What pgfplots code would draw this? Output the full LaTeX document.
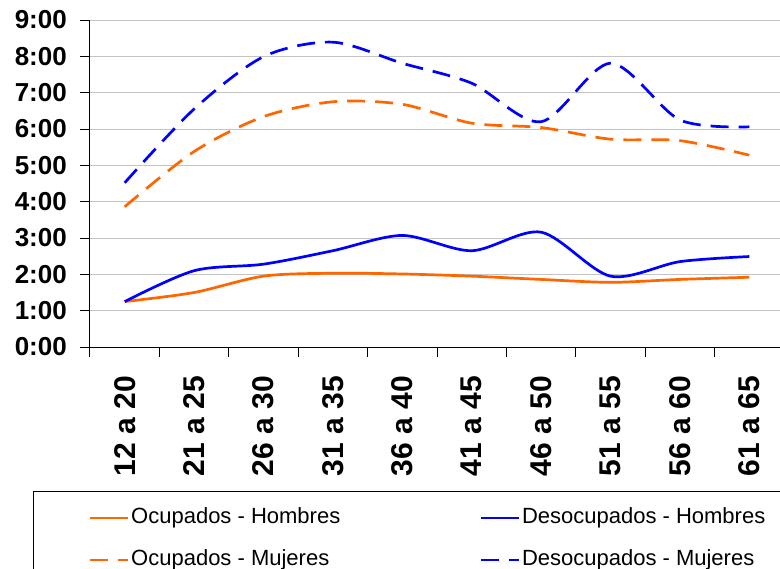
\documentclass[border=0pt]{standalone}
\usepackage{fontspec}
\setmainfont{Liberation Sans}
\usepackage{pgfplots}
\pgfplotsset{compat=1.18}
\definecolor{oc}{RGB}{255,102,0}
\definecolor{de}{RGB}{0,0,255}
\definecolor{gridc}{RGB}{196,196,196}
\begin{document}
\begin{tikzpicture}
\path[use as bounding box, clip] (0pt,0pt) rectangle (780pt,-569pt);
\begin{axis}[
  at={(90pt,-347pt)}, anchor=south west,
  scale only axis, width=694pt, height=327pt,
  xmin=0.5, xmax=10.5, ymin=0, ymax=9,
  axis x line*=bottom, axis y line*=left,
  axis line style={black, line width=1pt},
  tick align=outside,
  major tick length=10pt, minor tick length=10pt,
  xtick={1,...,10},
  xticklabels={12 a 20,21 a 25,26 a 30,31 a 35,36 a 40,41 a 45,46 a 50,51 a 55,56 a 60,61 a 65},
  major x tick style={draw=none},
  minor xtick={0.5,1.5,...,10.5},
  minor x tick style={black, line width=1pt},
  ytick={0,...,9},
  yticklabels={0:00,1:00,2:00,3:00,4:00,5:00,6:00,7:00,8:00,9:00},
  ytick style={black, line width=1pt},
  ymajorgrids, major grid style={gridc, line width=1pt},
  yticklabel style={font=\fontsize{26}{26}\selectfont\bfseries, inner sep=0pt, anchor=east, xshift=-13pt},
  xticklabel style={font=\fontsize{30}{30}\selectfont\bfseries, inner sep=0pt, yshift=-19pt, rotate=90, anchor=east},
  legend columns=2,
  legend cell align=left,
  legend style={at={(rel axis cs:-0.0821,-0.4404)}, anchor=north west, draw=black, line width=1pt,
    font=\fontsize{22}{26}\selectfont, inner xsep=55pt, inner ysep=14pt,
    nodes={inner sep=2pt, text height=16pt, text depth=5pt},
    row sep=17pt,
    /tikz/every even column/.append style={column sep=137pt}},
  legend image code/.code={\draw[#1] (0pt,0pt) -- (38pt,0pt);},
  every axis plot/.append style={line width=2.7pt, smooth, tension=0.5},
]
\addplot[oc] coordinates {(1,1.25) (2,1.5) (3,1.95) (4,2.03) (5,2.01) (6,1.95) (7,1.86) (8,1.78) (9,1.86) (10,1.92)};
\addlegendentry{Ocupados - Hombres}
\addplot[de] coordinates {(1,1.25) (2,2.1) (3,2.28) (4,2.65) (5,3.07) (6,2.65) (7,3.16) (8,1.95) (9,2.35) (10,2.49)};
\addlegendentry{Desocupados - Hombres}
\addplot[oc, dash pattern=on 18pt off 10pt] coordinates {(1,3.86) (2,5.38) (3,6.34) (4,6.75) (5,6.68) (6,6.16) (7,6.04) (8,5.72) (9,5.68) (10,5.28)};
\addlegendentry{Ocupados - Mujeres}
\addplot[de, dash pattern=on 18pt off 10pt] coordinates {(1,4.52) (2,6.55) (3,7.99) (4,8.39) (5,7.81) (6,7.26) (7,6.2) (8,7.81) (9,6.25) (10,6.06)};
\addlegendentry{Desocupados - Mujeres}
\end{axis}
\end{tikzpicture}
\end{document}
